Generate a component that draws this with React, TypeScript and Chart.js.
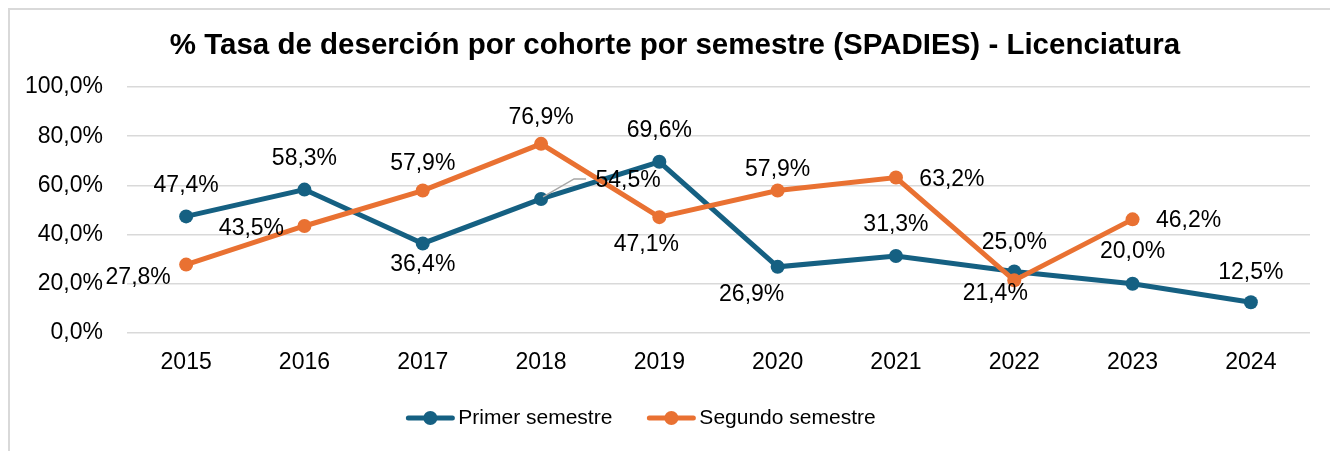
import React, { useEffect, useRef } from "react";
import { Chart, registerables } from "chart.js";

Chart.register(...registerables);

const chartTitle = "% Tasa de deserción por cohorte por semestre (SPADIES) - Licenciatura";
const years = ["2015", "2016", "2017", "2018", "2019", "2020", "2021", "2022", "2023", "2024"];
const primerLabel = "Primer semestre";
const segundoLabel = "Segundo semestre";
const primerSemestre = [47.4, 58.3, 36.4, 54.5, 69.6, 26.9, 31.3, 25.0, 20.0, 12.5];
const segundoSemestre: (number | null)[] = [27.8, 43.5, 57.9, 76.9, 47.1, 57.9, 63.2, 21.4, 46.2, null];
const yMin = 0;
const yMax = 100;
const yStep = 20;

// label placement (pixel offsets from each point), style only
const primerLabelOffsets = [[0, -31], [0, -31], [0, 21], [87, -18], [0, -31], [-26, 28], [0, -31], [0, -29], [0, -32], [0, -30]];
const segundoLabelOffsets = [[-48, 13], [-53, 3], [0, -27], [0, -26], [-13, 28], [0, -21], [56, 2], [-19, 13], [56, 1], [0, 0]];
const leaderLineFor = { dataset: 0, index: 3 };

const BLUE = "#156082";
const ORANGE = "#E97132";
const FONT = "'Liberation Sans', Arial, sans-serif";

const fmt = (v: number) => v.toFixed(1).replace(".", ",") + "%";

const overlayPlugin = {
  id: "overlay",
  afterDatasetsDraw(chart: any) {
    const ctx = chart.ctx;
    ctx.save();
    const lm = chart.getDatasetMeta(leaderLineFor.dataset);
    const lp = lm.data[leaderLineFor.index];
    if (lp) {
      ctx.strokeStyle = "#A6A6A6";
      ctx.lineWidth = 1.5;
      ctx.beginPath();
      ctx.moveTo(lp.x + 2, lp.y - 2);
      ctx.lineTo(lp.x + 33, lp.y - 20);
      ctx.lineTo(lp.x + 45, lp.y - 20);
      ctx.stroke();
    }
    ctx.font = `23px ${FONT}`;
    ctx.fillStyle = "#000";
    ctx.textAlign = "center";
    ctx.textBaseline = "middle";
    const offsets = [primerLabelOffsets, segundoLabelOffsets];
    chart.data.datasets.forEach((ds: any, di: number) => {
      const meta = chart.getDatasetMeta(di);
      ds.data.forEach((v: number | null, i: number) => {
        if (v === null || v === undefined) return;
        const p = meta.data[i];
        const [dx, dy] = offsets[di][i];
        ctx.fillText(fmt(v), p.x + dx, p.y + dy);
      });
    });
    ctx.restore();
  },
  afterDraw(chart: any) {
    const ctx = chart.ctx;
    ctx.save();
    ctx.font = `bold 29.5px ${FONT}`;
    ctx.fillStyle = "#000";
    ctx.textAlign = "center";
    ctx.textBaseline = "middle";
    ctx.fillText(chartTitle, 665, 36);
    ctx.font = `21px ${FONT}`;
    const items = chart.data.datasets.map((ds: any) => ({
      label: ds.label,
      color: ds.borderColor,
      w: 52 + ctx.measureText(ds.label).width,
    }));
    const gap = 35;
    const total = items.reduce((s: number, it: any) => s + it.w, 0) + gap * (items.length - 1);
    let x = 631 - total / 2;
    const y = 408;
    items.forEach((it: any) => {
      ctx.strokeStyle = it.color;
      ctx.lineWidth = 5;
      ctx.lineCap = "round";
      ctx.beginPath();
      ctx.moveTo(x + 2, y);
      ctx.lineTo(x + 46, y);
      ctx.stroke();
      ctx.fillStyle = it.color;
      ctx.beginPath();
      ctx.arc(x + 24, y, 7, 0, Math.PI * 2);
      ctx.fill();
      ctx.fillStyle = "#000";
      ctx.textAlign = "left";
      ctx.textBaseline = "middle";
      ctx.fillText(it.label, x + 52, y);
      x += it.w + gap;
    });
    ctx.restore();
  },
};

export default function App() {
  const ref = useRef<HTMLCanvasElement>(null);
  useEffect(() => {
    if (!ref.current) return;
    const chart = new Chart(ref.current, {
      type: "line",
      data: {
        labels: years,
        datasets: [
          {
            label: primerLabel,
            data: primerSemestre,
            borderColor: BLUE,
            backgroundColor: BLUE,
            pointBackgroundColor: BLUE,
            pointBorderColor: BLUE,
            borderWidth: 5,
            pointRadius: 7,
            pointBorderWidth: 0,
            tension: 0,
            order: 1,
          },
          {
            label: segundoLabel,
            data: segundoSemestre,
            borderColor: ORANGE,
            backgroundColor: ORANGE,
            pointBackgroundColor: ORANGE,
            pointBorderColor: ORANGE,
            borderWidth: 5,
            pointRadius: 7,
            pointBorderWidth: 0,
            tension: 0,
            order: 0,
          },
        ],
      },
      options: {
        responsive: false,
        animation: false,
        devicePixelRatio: 1,
        layout: { padding: { top: 77, right: 28, left: 0, bottom: 0 } },
        plugins: {
          legend: { display: false },
          title: { display: false },
          tooltip: { enabled: false },
        },
        scales: {
          x: {
            offset: true,
            grid: { display: false, drawTicks: false },
            border: { display: false },
            ticks: { color: "#000", font: { family: FONT, size: 23 }, padding: 16, maxRotation: 0 },
            afterFit(scale: any) {
              scale.height = 118;
            },
          },
          y: {
            min: yMin,
            max: yMax,
            ticks: {
              stepSize: yStep,
              color: "#000",
              font: { family: FONT, size: 23 },
              padding: 24,
              callback: (v: any) => fmt(Number(v)),
            },
            grid: { color: "#D9D9D9", lineWidth: 1.5, drawTicks: false },
            border: { display: false },
            afterFit(scale: any) {
              scale.width = 117;
            },
          },
        },
      },
      plugins: [overlayPlugin],
    });
    return () => chart.destroy();
  }, []);
  return (
    <div
      style={{
        width: 1330,
        height: 443,
        boxSizing: "border-box",
        borderTop: "2px solid #D9D9D9",
        borderLeft: "2px solid #D9D9D9",
        background: "#fff",
        overflow: "hidden",
      }}
    >
      <canvas ref={ref} width={1328} height={441} style={{ display: "block", width: 1328, height: 441 }} />
    </div>
  );
}
